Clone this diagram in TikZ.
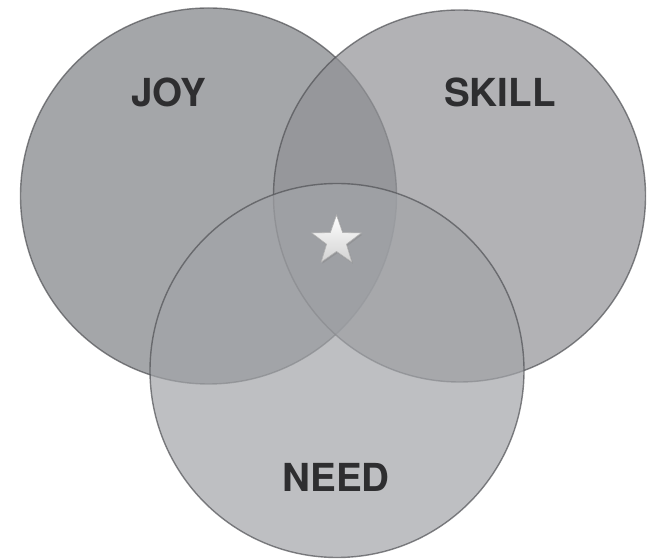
\documentclass[tikz,border=0pt]{standalone}
\usepackage{fontspec}
\setmainfont{TeX Gyre Heros}
\usepackage{xcolor}
\usetikzlibrary{shapes.geometric,shadows}
\definecolor{joyfill}{RGB}{126,128,132}
\definecolor{skillfill}{RGB}{145,146,150}
\definecolor{needfill}{RGB}{162,164,168}
\definecolor{rimgray}{RGB}{80,81,85}
\definecolor{txtgray}{RGB}{46,46,48}

\begin{document}
\begin{tikzpicture}[yscale=-1,x=0.5pt,y=0.5pt,
    set/.style={draw=rimgray,line width=0.7pt,opacity=0.7},
    lbl/.style={text=txtgray,font=\fontsize{19.3}{23}\selectfont\bfseries,inner sep=0pt}]
  \useasboundingbox (0,0) rectangle (647,560);

  \coordinate (joy) at (208.5,196);
  \coordinate (skill) at (459.5,196);
  \coordinate (need) at (337,370.5);

  %% Sets
  \filldraw [set,fill=joyfill] (joy) circle [radius=188];
  \filldraw [set,fill=skillfill] (skill) circle [radius=186];
  \filldraw [set,fill=needfill] (need) circle [radius=187];

  %% Labels
  \node [lbl] (joylbl) at (168.5,92) {JOY};
  \node [lbl] (skilllbl) at (500,92) {SKILL};
  \node [lbl] (needlbl) at (336,477.5) {NEED};

  %% Star in the middle
  \node [star,star points=5,star point ratio=2.5,minimum size=26pt,inner sep=0pt,
         draw=gray!60,line width=0.3pt,top color=white,bottom color=gray!35,
         drop shadow={shadow xshift=0.6pt,shadow yshift=-0.8pt,opacity=0.35}]
    (core) at (336.5,241) {};
\end{tikzpicture}
\end{document}
